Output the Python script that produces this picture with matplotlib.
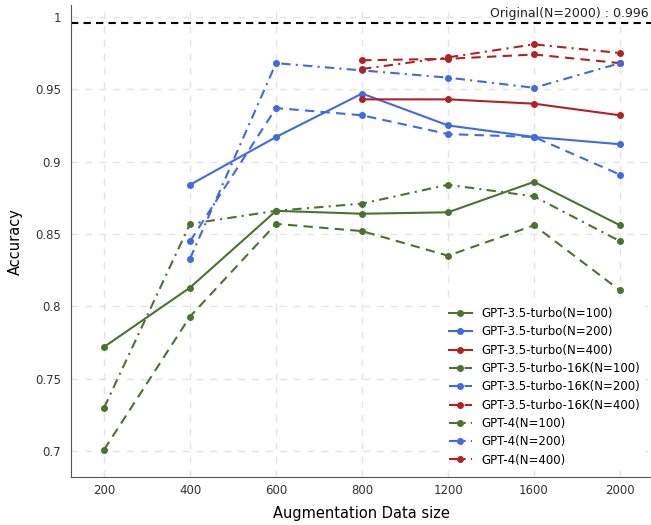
import matplotlib
matplotlib.use("Agg")
import matplotlib.pyplot as plt

sizes = ["200", "400", "600", "800", "1200", "1600", "2000"]

turbo_100 = [0.772, 0.813, 0.866, 0.864, 0.865, 0.886, 0.856]
turbo_200 = [None, 0.884, 0.917, 0.947, 0.925, 0.917, 0.912]
turbo_400 = [None, None, None, 0.943, 0.943, 0.940, 0.932]
turbo16k_100 = [0.701, 0.793, 0.857, 0.852, 0.835, 0.856, 0.811]
turbo16k_200 = [None, 0.845, 0.937, 0.932, 0.919, 0.917, 0.891]
turbo16k_400 = [None, None, None, 0.970, 0.971, 0.974, 0.968]
gpt4_100 = [0.730, 0.857, 0.866, 0.871, 0.884, 0.876, 0.845]
gpt4_200 = [None, 0.833, 0.968, 0.963, 0.958, 0.951, 0.968]
gpt4_400 = [None, None, None, 0.964, 0.972, 0.981, 0.975]

original = 0.996

green = "#4a7331"
blue = "#4169e1"
red = "#b22222"

dashed = (0, (4.5, 3))
dashdot = (0, (4.5, 2.5, 1, 2.5))

series = [
    ("GPT-3.5-turbo(N=100)", turbo_100, green, "-"),
    ("GPT-3.5-turbo(N=200)", turbo_200, blue, "-"),
    ("GPT-3.5-turbo(N=400)", turbo_400, red, "-"),
    ("GPT-3.5-turbo-16K(N=100)", turbo16k_100, green, dashed),
    ("GPT-3.5-turbo-16K(N=200)", turbo16k_200, blue, dashed),
    ("GPT-3.5-turbo-16K(N=400)", turbo16k_400, red, dashed),
    ("GPT-4(N=100)", gpt4_100, green, dashdot),
    ("GPT-4(N=200)", gpt4_200, blue, dashdot),
    ("GPT-4(N=400)", gpt4_400, red, dashdot),
]

fig = plt.figure(figsize=(6.51, 5.25), dpi=100)
ax = fig.add_axes([0.109, 0.091, 0.891, 0.899])

for label, vals, col, ls in series:
    xs = [i for i, v in enumerate(vals) if v is not None]
    ys = [v for v in vals if v is not None]
    ax.plot(xs, ys, color=col, linestyle=ls, marker="o", markersize=4,
            linewidth=1.5, label=label)

ax.axhline(original, color="black", linestyle=(0, (3.5, 2.5)), linewidth=1.5)
ax.text(6.33, original + 0.002, "Original(N=2000) : " + str(original),
        ha="right", va="bottom", fontsize=9, color="#222222")

ax.set_xticks(range(len(sizes)))
ax.set_xticklabels(sizes)
ax.set_yticks([0.7, 0.75, 0.8, 0.85, 0.9, 0.95, 1.0])
ax.set_yticklabels(["0.7", "0.75", "0.8", "0.85", "0.9", "0.95", "1"])
ax.set_xlim(-0.385, 6.36)
ax.set_ylim(0.682, 1.008)
ax.tick_params(length=0, labelsize=8.5, colors="#333333")
ax.tick_params(axis="y", pad=7)
ax.tick_params(axis="x", pad=5)

ax.grid(True, linestyle=(0, (5, 5)), color="#e4e4e4", linewidth=1)
ax.set_axisbelow(True)
for s in ["top", "right"]:
    ax.spines[s].set_visible(False)
for s in ["left", "bottom"]:
    ax.spines[s].set_color("#555555")

ax.set_xlabel("Augmentation Data size", fontsize=10.5, labelpad=6)
ax.set_ylabel("Accuracy", fontsize=10.5, labelpad=9)

ax.legend(loc="lower right", frameon=True, edgecolor="none", facecolor="white",
          framealpha=1, fontsize=8.5, handlelength=2.0, borderaxespad=0.5,
          labelspacing=0.45)

fig.savefig("out.png", dpi=100)
